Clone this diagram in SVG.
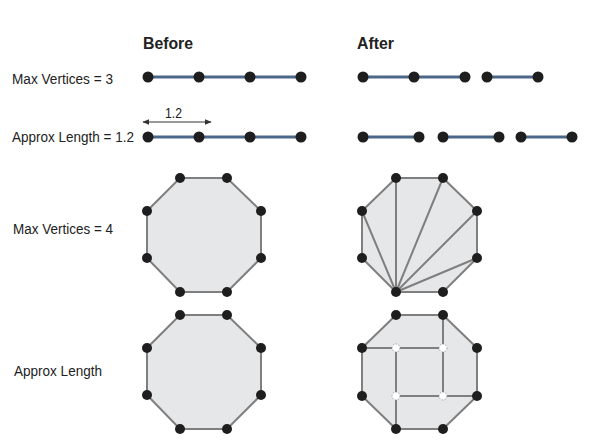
<svg xmlns="http://www.w3.org/2000/svg" width="600" height="444" viewBox="0 0 600 444">
<defs>
<style>
.lbl{font-family:"Liberation Sans",Arial,sans-serif;font-size:15.5px;fill:#222}
.hdr{font-family:"Liberation Sans",Arial,sans-serif;font-size:16.5px;font-weight:bold;fill:#222}
.seg{stroke:#4d6788;stroke-width:3;fill:none}
.dot{fill:#1e1e1e}
.oct{fill:#e6e7e8;stroke:#7f7f7f;stroke-width:2}
.edge{stroke:#7f7f7f;stroke-width:2;fill:none}
.wdot{fill:#fff;stroke:#999;stroke-width:1;stroke-dasharray:1.5 1.5}
.dim{stroke:#333;stroke-width:1;fill:none}
</style>
<marker id="ah" viewBox="0 0 10 10" refX="9" refY="5" markerWidth="7" markerHeight="7" orient="auto-start-reverse" markerUnits="userSpaceOnUse">
<path d="M0,1 L10,5 L0,9 z" fill="#333"/>
</marker>
</defs>
<rect width="600" height="444" fill="#fff"/>

<g id="headers">
<text class="hdr" x="143" y="49" textLength="50" lengthAdjust="spacingAndGlyphs">Before</text>
<text class="hdr" x="357" y="49" textLength="37" lengthAdjust="spacingAndGlyphs">After</text>
</g>

<g id="labels">
<text class="lbl" x="12" y="83.5" textLength="101" lengthAdjust="spacingAndGlyphs">Max Vertices = 3</text>
<text class="lbl" x="12" y="142" textLength="122" lengthAdjust="spacingAndGlyphs">Approx Length = 1.2</text>
<text class="lbl" x="13" y="234" textLength="100" lengthAdjust="spacingAndGlyphs">Max Vertices = 4</text>
<text class="lbl" x="14" y="376" textLength="88" lengthAdjust="spacingAndGlyphs">Approx Length</text>
</g>

<g id="connectors">
<line class="dim" x1="143" y1="122" x2="211" y2="122" marker-start="url(#ah)" marker-end="url(#ah)"/>
<text class="lbl" x="165" y="118" textLength="17" lengthAdjust="spacingAndGlyphs">1.2</text>
</g>

<g id="before-row1">
<line class="seg" x1="148" y1="77" x2="301" y2="77"/>
<circle class="dot" cx="148" cy="77" r="5.5"/>
<circle class="dot" cx="199" cy="77" r="5.5"/>
<circle class="dot" cx="250" cy="77" r="5.5"/>
<circle class="dot" cx="301" cy="77" r="5.5"/>
</g>

<g id="before-row2">
<line class="seg" x1="148" y1="137" x2="301" y2="137"/>
<circle class="dot" cx="148" cy="137" r="5.5"/>
<circle class="dot" cx="199" cy="137" r="5.5"/>
<circle class="dot" cx="250" cy="137" r="5.5"/>
<circle class="dot" cx="301" cy="137" r="5.5"/>
</g>

<g id="after-row1">
<line class="seg" x1="363" y1="77" x2="465" y2="77"/>
<line class="seg" x1="487" y1="77" x2="538" y2="77"/>
<circle class="dot" cx="363" cy="77" r="5.5"/>
<circle class="dot" cx="414" cy="77" r="5.5"/>
<circle class="dot" cx="465" cy="77" r="5.5"/>
<circle class="dot" cx="487" cy="77" r="5.5"/>
<circle class="dot" cx="538" cy="77" r="5.5"/>
</g>

<g id="after-row2">
<line class="seg" x1="363" y1="137" x2="419" y2="137"/>
<line class="seg" x1="443" y1="137" x2="499" y2="137"/>
<line class="seg" x1="521" y1="137" x2="572" y2="137"/>
<circle class="dot" cx="363" cy="137" r="5.5"/>
<circle class="dot" cx="419" cy="137" r="5.5"/>
<circle class="dot" cx="443" cy="137" r="5.5"/>
<circle class="dot" cx="499" cy="137" r="5.5"/>
<circle class="dot" cx="521" cy="137" r="5.5"/>
<circle class="dot" cx="572" cy="137" r="5.5"/>
</g>

<g id="before-oct1">
<polygon class="oct" points="180,178 227,178 261,211 261,258 227,292 180,292 147,258 147,211"/>
<circle class="dot" cx="180" cy="178" r="5"/>
<circle class="dot" cx="227" cy="178" r="5"/>
<circle class="dot" cx="261" cy="211" r="5"/>
<circle class="dot" cx="261" cy="258" r="5"/>
<circle class="dot" cx="227" cy="292" r="5"/>
<circle class="dot" cx="180" cy="292" r="5"/>
<circle class="dot" cx="147" cy="258" r="5"/>
<circle class="dot" cx="147" cy="211" r="5"/>
</g>

<g id="after-oct1">
<polygon class="oct" points="396,178 443,178 477,211 477,258 443,292 396,292 362,258 362,211"/>
<path class="edge" d="M396,292 L362,211 M396,292 L396,178 M396,292 L443,178 M396,292 L477,211 M396,292 L477,258"/>
<circle class="dot" cx="396" cy="178" r="5"/>
<circle class="dot" cx="443" cy="178" r="5"/>
<circle class="dot" cx="477" cy="211" r="5"/>
<circle class="dot" cx="477" cy="258" r="5"/>
<circle class="dot" cx="443" cy="292" r="5"/>
<circle class="dot" cx="396" cy="292" r="5"/>
<circle class="dot" cx="362" cy="258" r="5"/>
<circle class="dot" cx="362" cy="211" r="5"/>
</g>

<g id="before-oct2">
<polygon class="oct" points="180,315 227,315 261,348 261,395 227,429 180,429 147,395 147,348"/>
<circle class="dot" cx="180" cy="315" r="5"/>
<circle class="dot" cx="227" cy="315" r="5"/>
<circle class="dot" cx="261" cy="348" r="5"/>
<circle class="dot" cx="261" cy="395" r="5"/>
<circle class="dot" cx="227" cy="429" r="5"/>
<circle class="dot" cx="180" cy="429" r="5"/>
<circle class="dot" cx="147" cy="395" r="5"/>
<circle class="dot" cx="147" cy="348" r="5"/>
</g>

<g id="after-oct2">
<polygon class="oct" points="396,315 443,315 477,348 477,396 443,429 396,429 362,396 362,348"/>
<path class="edge" d="M362,348 L443,348 M443,315 L443,396 M396,348 L396,429 M396,396 L477,396"/>
<circle class="wdot" cx="396" cy="348" r="4"/>
<circle class="wdot" cx="443" cy="348" r="4"/>
<circle class="wdot" cx="396" cy="396" r="4"/>
<circle class="wdot" cx="443" cy="396" r="4"/>
<circle class="dot" cx="396" cy="315" r="5"/>
<circle class="dot" cx="443" cy="315" r="5"/>
<circle class="dot" cx="477" cy="348" r="5"/>
<circle class="dot" cx="477" cy="396" r="5"/>
<circle class="dot" cx="443" cy="429" r="5"/>
<circle class="dot" cx="396" cy="429" r="5"/>
<circle class="dot" cx="362" cy="396" r="5"/>
<circle class="dot" cx="362" cy="348" r="5"/>
</g>
</svg>
